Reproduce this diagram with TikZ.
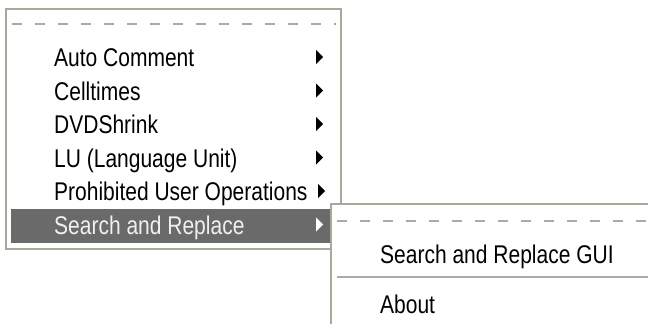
\documentclass[tikz,border=0pt]{standalone}
\usepackage{fontspec}
\setmainfont{Liberation Sans}
\definecolor{menuborder}{RGB}{172,168,153}
\definecolor{menuhl}{RGB}{106,106,106}
\definecolor{dashgray}{RGB}{170,170,170}
\definecolor{hltext}{RGB}{240,240,240}
\tikzset{
  menuframe/.style={draw=menuborder, line width=1.5pt, fill=white},
  tearoff/.style={draw=dashgray, line width=2.2pt, dash pattern=on 10pt off 13pt},
  item/.style={anchor=base west, inner sep=0pt, font=\fontsize{21}{24}\selectfont, text=black},
  hlitem/.style={item, text=hltext},
}
% tall menu lettering
\newcommand{\mi}[1]{\scalebox{1}[1.22]{#1}}
% submenu arrow: left x, centre y
\newcommand{\subtri}[3][black]{\fill[#1] (#2,#3-7) -- (#2+7,#3) -- (#2,#3+7) -- cycle;}
\begin{document}
\begin{tikzpicture}[x=1pt,y=-1pt]
\useasboundingbox (0,0) rectangle (648,324);
\fill[white] (0,0) rectangle (648,324);

% main menu
\draw[menuframe] (6,9) rectangle (341,249);
\draw[tearoff] (12,24) -- (336,24);
\fill[menuhl] (11,209) rectangle (336,243);

\node[item] (ac) at (54,66.5) {\mi{Auto Comment}};
\node[item] (ct) at (54,100) {\mi{Celltimes}};
\node[item] (dvd) at (54,133.5) {\mi{DVDShrink}};
\node[item] (lu) at (54,167) {\mi{LU (Language Unit)}};
\node[item] (puo) at (54,200.5) {\mi{Prohibited User Operations}};
\node[hlitem] (sr) at (54,234) {\mi{Search and Replace}};

\subtri{316}{57}
\subtri{316}{90.5}
\subtri{316}{124}
\subtri{316}{157.5}
\subtri{318}{191}
\subtri[white]{316}{224.5}

% submenu
\draw[menuframe] (331,204) rectangle (660,340);
\draw[tearoff] (337,221) -- (648,221);
\node[item] (gui) at (380,263) {\mi{Search and Replace GUI}};
\draw[draw=dashgray, line width=1.5pt] (337,277) -- (648,277);
\draw[draw=white, line width=1pt] (337,278.5) -- (648,278.5);
\node[item] (about) at (380,313) {\mi{About}};
\end{tikzpicture}
\end{document}
